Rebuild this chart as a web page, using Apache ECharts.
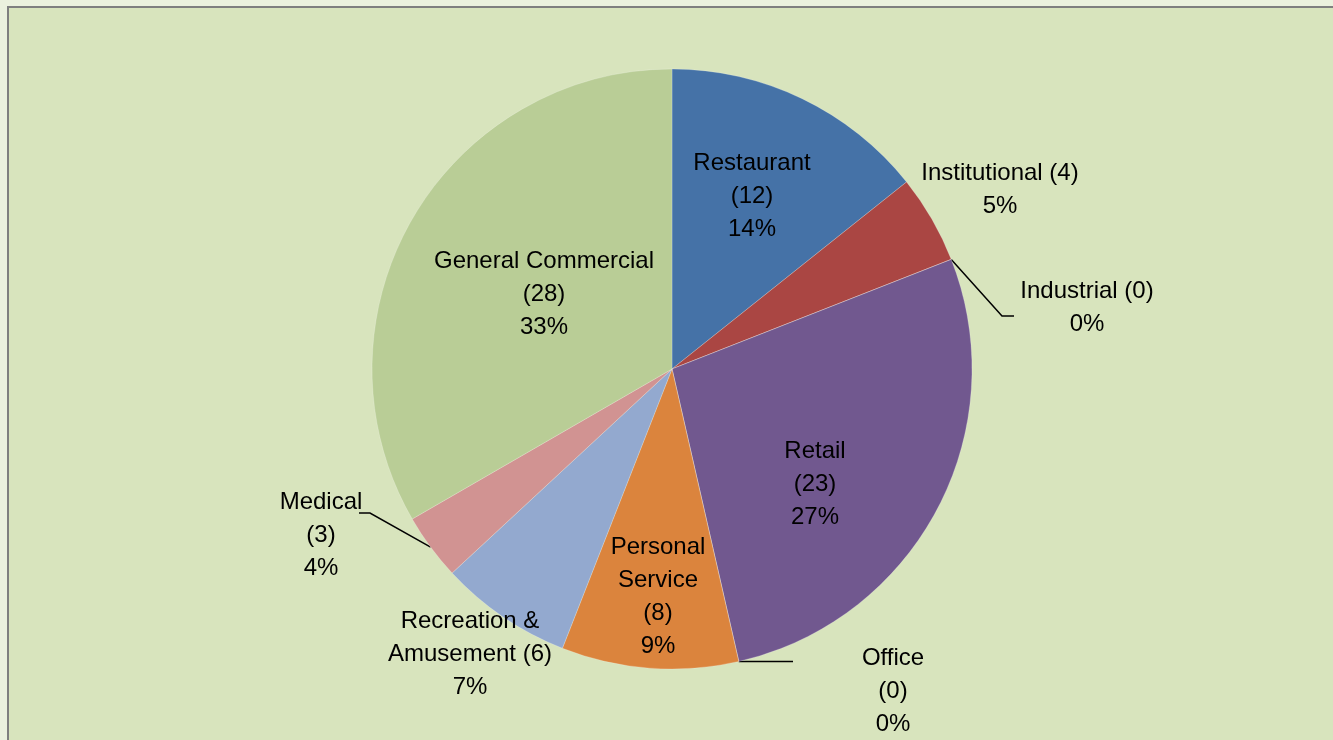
<!DOCTYPE html>
<html>
<head>
<meta charset="utf-8">
<script src="https://cdn.jsdelivr.net/npm/echarts@6/dist/echarts.min.js"></script>
<style>
  html, body { margin: 0; padding: 0; background: #EBF1DE; width: 1333px; height: 740px; overflow: hidden; }
  #frame { position: absolute; left: 7px; top: 6px; width: 1400px; height: 800px; border: 2px solid #7F7F7F; background: #D8E4BD; }
  #chart { position: absolute; left: 0; top: 0; width: 1333px; height: 740px; }
</style>
</head>
<body>
<div id="frame"></div>
<div id="chart"></div>
<script>
// ---- data ----
const categories = ['Restaurant', 'Institutional', 'Industrial', 'Retail', 'Office',
  'Personal Service', 'Recreation & Amusement', 'Medical', 'General Commercial'];
const counts = [12, 4, 0, 23, 0, 8, 6, 3, 28];
const percentLabels = [14, 5, 0, 27, 0, 9, 7, 4, 33];

// ---- presentation ----
const displayNames = ['Restaurant', 'Institutional', 'Industrial', 'Retail', 'Office',
  'Personal\nService', 'Recreation &\nAmusement', 'Medical', 'General Commercial'];
const templates = ['stack', 'inline', 'inline', 'stack', 'stack', 'stack', 'inline', 'stack', 'stack'];
const colors = ['#4572A7', '#AA4643', '#89A54E', '#71588F', '#4198AF', '#DB843D', '#93A9CF', '#D19392', '#B9CD96'];
const insideIdx = [0, 3, 5, 8];
const leaderIdx = [2, 4, 7];
const labelCenters = {
  0: [752, 196], 1: [1000, 190], 2: [1087, 308], 3: [815, 484], 4: [893, 691],
  5: [658, 597], 6: [470, 654], 7: [321, 535], 8: [544, 294]
};
// leader line bend / end points (annotation layout); null y = keep start's y
const leaderPath = {
  2: [[1002, 316], [1014, 316]],
  4: [[766, null], [793, null]],
  7: [[370, 513], [359, 513]]
};

function labelText(i) {
  const n = displayNames[i], v = counts[i], p = percentLabels[i];
  return templates[i] === 'stack' ? n + '\n(' + v + ')\n' + p + '%' : n + ' (' + v + ')\n' + p + '%';
}

const seriesData = categories.map((c, i) => ({
  name: c,
  value: counts[i],
  itemStyle: { color: colors[i] },
  label: { position: insideIdx.includes(i) ? 'inside' : 'outside' },
  labelLine: { show: leaderIdx.includes(i) }
}));

const chart = echarts.init(document.getElementById('chart'), null, { renderer: 'canvas' });
chart.setOption({
  backgroundColor: 'transparent',
  animation: false,
  series: [{
    type: 'pie',
    center: [672, 369],
    radius: 300,
    startAngle: 90,
    clockwise: true,
    avoidLabelOverlap: false,
    stillShowZeroSum: true,
    data: seriesData,
    itemStyle: { borderColor: 'rgba(255,255,255,0.35)', borderWidth: 0.6 },
    label: {
      show: true,
      formatter: p => labelText(p.dataIndex),
      fontFamily: 'Liberation Sans, Arial, sans-serif',
      fontSize: 24,
      lineHeight: 33,
      color: '#000',
      align: 'center'
    },
    labelLine: {
      show: false,
      length: 10,
      length2: 10,
      lineStyle: { color: '#000', width: 1.5 }
    },
    emphasis: { disabled: true },
    labelLayout: function (params) {
      const i = params.dataIndex;
      const c = labelCenters[i];
      const out = { x: c[0], y: c[1], align: 'center', verticalAlign: 'middle' };
      if (leaderPath[i] && params.labelLinePoints) {
        const start = params.labelLinePoints[0];
        const pts = leaderPath[i].map(p => [p[0], p[1] == null ? start[1] : p[1]]);
        out.labelLinePoints = [start, pts[0], pts[1]];
      }
      return out;
    }
  }]
});
</script>
</body>
</html>
